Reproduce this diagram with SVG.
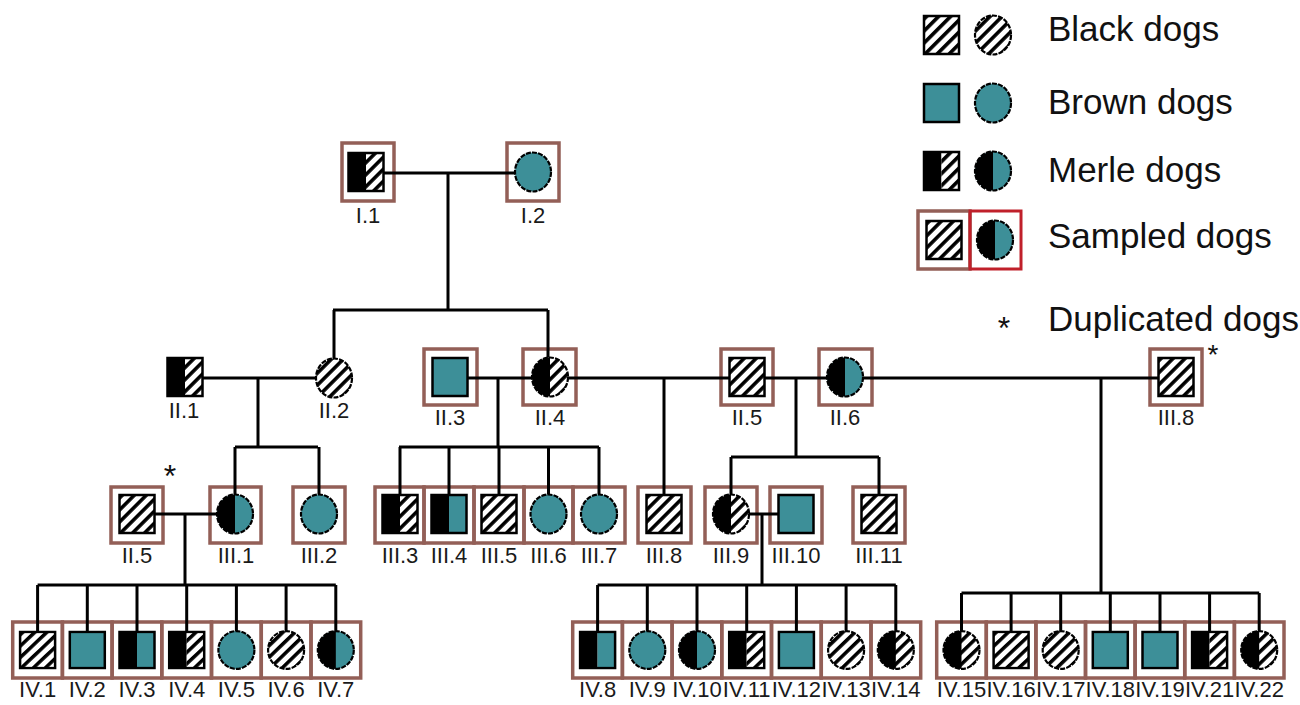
<svg xmlns="http://www.w3.org/2000/svg" xmlns:xlink="http://www.w3.org/1999/xlink" width="1300" height="705" viewBox="0 0 1300 705">
<style>
.box{fill:none;stroke:#935f57;stroke-width:3.5}
.rbox{fill:none;stroke:#c0202a;stroke-width:3}
.sym{stroke:#000;stroke-width:2.5}
.circ{fill:none;stroke:#000;stroke-width:2.2;stroke-dasharray:5 1.2}
.lbl{font-family:"Liberation Sans",Arial,sans-serif;font-size:22px;text-anchor:middle;fill:#1a1a1a}
.leg{font-family:"Liberation Sans",Arial,sans-serif;font-size:35px;fill:#111}
.ast{font-family:"Liberation Sans",Arial,sans-serif;font-size:32px;text-anchor:middle;fill:#111}
.con{fill:none;stroke:#000;stroke-width:3}
</style>
<defs>
<pattern id="hatch" patternUnits="userSpaceOnUse" width="8.5" height="8.5" patternTransform="rotate(45)">
<rect width="8.5" height="8.5" fill="#fff"/><rect width="3.6" height="8.5" fill="#000"/>
</pattern>
<g id="sqH"><rect x="-17.5" y="-19" width="35" height="38" fill="url(#hatch)" class="sym"/></g>
<g id="sqT"><rect x="-17.5" y="-19" width="35" height="38" fill="#3d8f98" class="sym"/></g>
<g id="sqMH"><rect x="-17.5" y="-19" width="17.5" height="38" fill="#000"/><rect x="0" y="-19" width="17.5" height="38" fill="url(#hatch)"/><rect x="-17.5" y="-19" width="35" height="38" fill="none" class="sym"/></g>
<g id="sqMT"><rect x="-17.5" y="-19" width="17.5" height="38" fill="#000"/><rect x="0" y="-19" width="17.5" height="38" fill="#3d8f98"/><rect x="-17.5" y="-19" width="35" height="38" fill="none" class="sym"/></g>
<g id="ciT"><ellipse rx="18" ry="19.5" fill="#3d8f98"/><ellipse rx="18" ry="19.5" class="circ"/></g>
<g id="ciH"><ellipse rx="18" ry="19.5" fill="url(#hatch)"/><ellipse rx="18" ry="19.5" class="circ"/></g>
<g id="ciMT"><ellipse rx="18" ry="19.5" fill="#3d8f98"/><path d="M0,-19.5 A18,19.5 0 0 0 0,19.5 Z" fill="#000"/><ellipse rx="18" ry="19.5" class="circ"/></g>
<g id="ciMH"><ellipse rx="18" ry="19.5" fill="url(#hatch)"/><path d="M0,-19.5 A18,19.5 0 0 0 0,19.5 Z" fill="#000"/><ellipse rx="18" ry="19.5" class="circ"/></g>
</defs>
<rect width="1300" height="705" fill="#fff"/>

<!-- Legend -->
<g id="legend">
<use href="#sqH" x="941.5" y="35"/><use href="#ciH" x="993" y="35"/>
<text class="leg" x="1048" y="41">Black dogs</text>
<use href="#sqT" x="941.5" y="103"/><use href="#ciT" x="993" y="103"/>
<text class="leg" x="1048" y="114">Brown dogs</text>
<use href="#sqMH" x="941.5" y="171"/><use href="#ciMT" x="993" y="171"/>
<text class="leg" x="1048" y="182">Merle dogs</text>
<rect class="box" x="918" y="211" width="52" height="58"/>
<rect class="rbox" x="970" y="211" width="51" height="58"/>
<use href="#sqH" x="944" y="240"/><use href="#ciMT" x="995" y="240"/>
<text class="leg" x="1048" y="248">Sampled dogs</text>
<text class="ast" x="1004" y="339">*</text>
<text class="leg" x="1048" y="331">Duplicated dogs</text>
</g>

<!-- Generation I -->
<g id="I.1"><rect class="box" x="342" y="143" width="52" height="58"/><use href="#sqMH" x="366" y="172"/><text class="lbl" x="368" y="223">I.1</text></g>
<g id="I.2"><rect class="box" x="507" y="143" width="52" height="58"/><use href="#ciT" x="533" y="172"/><text class="lbl" x="533" y="223">I.2</text></g>

<!-- Generation II -->
<g id="II.1"><use href="#sqMH" x="185" y="377"/><text class="lbl" x="184" y="418">II.1</text></g>
<g id="II.2"><use href="#ciH" x="334" y="378"/><text class="lbl" x="334" y="418">II.2</text></g>
<g id="II.3"><rect class="box" x="424" y="349" width="53" height="56"/><use href="#sqT" x="450" y="377"/><text class="lbl" x="450" y="425">II.3</text></g>
<g id="II.4"><rect class="box" x="523" y="349" width="53" height="56"/><use href="#ciMH" x="550" y="377"/><text class="lbl" x="550" y="425">II.4</text></g>
<g id="II.5"><rect class="box" x="721" y="349" width="52" height="56"/><use href="#sqH" x="747" y="377"/><text class="lbl" x="747" y="425">II.5</text></g>
<g id="II.6"><rect class="box" x="819" y="349" width="53" height="56"/><use href="#ciMT" x="845" y="377"/><text class="lbl" x="845" y="425">II.6</text></g>
<g id="III.8-top"><rect class="box" x="1150" y="349" width="52" height="56"/><use href="#sqH" x="1176" y="377"/><text class="lbl" x="1176" y="425">III.8</text><text class="ast" x="1213" y="364" style="font-size:28px">*</text></g>

<!-- Generation III -->
<g id="II.5-dup"><rect class="box" x="111" y="487" width="52" height="56"/><use href="#sqH" x="137" y="514"/><text class="lbl" x="137" y="563">II.5</text><text class="ast" x="170" y="487">*</text></g>
<g id="III.1"><rect class="box" x="210" y="487" width="51" height="56"/><use href="#ciMT" x="235" y="514"/><text class="lbl" x="236" y="563">III.1</text></g>
<g id="III.2"><rect class="box" x="293" y="487" width="52" height="56"/><use href="#ciT" x="319" y="514"/><text class="lbl" x="319" y="563">III.2</text></g>
<g id="III.3"><rect class="box" x="375" y="487" width="49" height="56"/><use href="#sqMH" x="400" y="514"/><text class="lbl" x="400" y="563">III.3</text></g>
<g id="III.4"><rect class="box" x="424" y="487" width="50" height="56"/><use href="#sqMT" x="449" y="514"/><text class="lbl" x="449" y="563">III.4</text></g>
<g id="III.5"><rect class="box" x="474" y="487" width="50" height="56"/><use href="#sqH" x="499" y="514"/><text class="lbl" x="499" y="563">III.5</text></g>
<g id="III.6"><rect class="box" x="524" y="487" width="49" height="56"/><use href="#ciT" x="548.5" y="514"/><text class="lbl" x="548.5" y="563">III.6</text></g>
<g id="III.7"><rect class="box" x="573" y="487" width="52" height="56"/><use href="#ciT" x="599" y="514"/><text class="lbl" x="599" y="563">III.7</text></g>
<g id="III.8"><rect class="box" x="638" y="487" width="53" height="56"/><use href="#sqH" x="664" y="514"/><text class="lbl" x="664" y="563">III.8</text></g>
<g id="III.9"><rect class="box" x="705" y="487" width="52" height="56"/><use href="#ciMH" x="731" y="514"/><text class="lbl" x="731" y="563">III.9</text></g>
<g id="III.10"><rect class="box" x="770" y="487" width="52" height="56"/><use href="#sqT" x="796" y="514"/><text class="lbl" x="796" y="563">III.10</text></g>
<g id="III.11"><rect class="box" x="853" y="487" width="52" height="56"/><use href="#sqH" x="879" y="514"/><text class="lbl" x="879" y="563">III.11</text></g>

<!-- Generation IV -->
<g id="IV.1"><rect class="box" x="12.7" y="622" width="49.7" height="56"/><use href="#sqH" transform="translate(37.6,650) scale(1,0.95)"/><text class="lbl" x="37.6" y="697">IV.1</text></g>
<g id="IV.2"><rect class="box" x="62.4" y="622" width="49.7" height="56"/><use href="#sqT" transform="translate(87.3,650) scale(1,0.95)"/><text class="lbl" x="87.3" y="697">IV.2</text></g>
<g id="IV.3"><rect class="box" x="112.1" y="622" width="49.7" height="56"/><use href="#sqMT" transform="translate(137,650) scale(1,0.95)"/><text class="lbl" x="137" y="697">IV.3</text></g>
<g id="IV.4"><rect class="box" x="161.8" y="622" width="49.7" height="56"/><use href="#sqMH" transform="translate(186.7,650) scale(1,0.95)"/><text class="lbl" x="186.7" y="697">IV.4</text></g>
<g id="IV.5"><rect class="box" x="211.5" y="622" width="49.7" height="56"/><use href="#ciT" transform="translate(236.4,650) scale(1,0.97)"/><text class="lbl" x="236.4" y="697">IV.5</text></g>
<g id="IV.6"><rect class="box" x="261.3" y="622" width="49.7" height="56"/><use href="#ciH" transform="translate(286.1,650) scale(1,0.97)"/><text class="lbl" x="286.1" y="697">IV.6</text></g>
<g id="IV.7"><rect class="box" x="311" y="622" width="49.7" height="56"/><use href="#ciMT" transform="translate(335.8,650) scale(1,0.97)"/><text class="lbl" x="335.8" y="697">IV.7</text></g>

<g id="IV.8"><rect class="box" x="572.7" y="622" width="49.7" height="56"/><use href="#sqMT" transform="translate(597.6,650) scale(1,0.95)"/><text class="lbl" x="597.6" y="697">IV.8</text></g>
<g id="IV.9"><rect class="box" x="622.4" y="622" width="49.7" height="56"/><use href="#ciT" transform="translate(647.3,650) scale(1,0.97)"/><text class="lbl" x="647.3" y="697">IV.9</text></g>
<g id="IV.10"><rect class="box" x="672.1" y="622" width="49.7" height="56"/><use href="#ciMT" transform="translate(697,650) scale(1,0.97)"/><text class="lbl" x="697" y="697">IV.10</text></g>
<g id="IV.11"><rect class="box" x="721.8" y="622" width="49.7" height="56"/><use href="#sqMH" transform="translate(746.7,650) scale(1,0.95)"/><text class="lbl" x="746.7" y="697">IV.11</text></g>
<g id="IV.12"><rect class="box" x="771.5" y="622" width="49.7" height="56"/><use href="#sqT" transform="translate(796.4,650) scale(1,0.95)"/><text class="lbl" x="796.4" y="697">IV.12</text></g>
<g id="IV.13"><rect class="box" x="821.3" y="622" width="49.7" height="56"/><use href="#ciH" transform="translate(846.1,650) scale(1,0.97)"/><text class="lbl" x="846.1" y="697">IV.13</text></g>
<g id="IV.14"><rect class="box" x="871" y="622" width="49.7" height="56"/><use href="#ciMH" transform="translate(895.8,650) scale(1,0.97)"/><text class="lbl" x="895.8" y="697">IV.14</text></g>

<g id="IV.15"><rect class="box" x="936.7" y="622" width="49.6" height="56"/><use href="#ciMH" transform="translate(961.5,650) scale(1,0.97)"/><text class="lbl" x="961.5" y="697">IV.15</text></g>
<g id="IV.16"><rect class="box" x="986.3" y="622" width="49.6" height="56"/><use href="#sqH" transform="translate(1011.1,650) scale(1,0.95)"/><text class="lbl" x="1011.1" y="697">IV.16</text></g>
<g id="IV.17"><rect class="box" x="1035.9" y="622" width="49.6" height="56"/><use href="#ciH" transform="translate(1060.7,650) scale(1,0.97)"/><text class="lbl" x="1060.7" y="697">IV.17</text></g>
<g id="IV.18"><rect class="box" x="1085.5" y="622" width="49.6" height="56"/><use href="#sqT" transform="translate(1110.3,650) scale(1,0.95)"/><text class="lbl" x="1110.3" y="697">IV.18</text></g>
<g id="IV.19"><rect class="box" x="1135.1" y="622" width="49.6" height="56"/><use href="#sqT" transform="translate(1160,650) scale(1,0.95)"/><text class="lbl" x="1160" y="697">IV.19</text></g>
<g id="IV.21"><rect class="box" x="1184.8" y="622" width="49.6" height="56"/><use href="#sqMH" transform="translate(1209.6,650) scale(1,0.95)"/><text class="lbl" x="1209.6" y="697">IV.21</text></g>
<g id="IV.22"><rect class="box" x="1234.4" y="622" width="49.6" height="56"/><use href="#ciMH" transform="translate(1259.2,650) scale(1,0.97)"/><text class="lbl" x="1259.2" y="697">IV.22</text></g>

<!-- Connectors -->
<g id="connectors" class="con">
<path d="M384,173 H515 M448,173 V310 M333,310 H548 M334,310 V358.5 M548,310 V357.5"/>
<path d="M203,378 H316 M258,378 V447 M235,447 H318 M235,447 V494.5 M319,447 V494.5"/>
<path d="M467,378 H532 M498,378 V447 M399,447 H599 M400,447 V495 M449,447 V495 M499,447 V495 M548.5,447 V494.5 M599,447 V494.5"/>
<path d="M568,378 H729.5 M664,378 V495"/>
<path d="M764.5,378 H827 M796,378 V457 M731,457 H879 M731,457 V494.5 M879,457 V495"/>
<path d="M863,378 H1158.5 M1101,378 V593 M961.5,593 H1259.2 M961.5,593 V631 M1011.1,593 V632 M1060.7,593 V631 M1110.3,593 V632 M1160,593 V632 M1209.6,593 V632 M1259.2,593 V631"/>
<path d="M154.5,514 H217 M185,514 V585 M37.6,585 H335.8 M37.6,585 V632 M87.3,585 V632 M137,585 V632 M186.7,585 V632 M236.4,585 V631 M286.1,585 V631 M335.8,585 V631"/>
<path d="M749,514 H778.5 M762,514 V585 M597.6,585 H895.8 M597.6,585 V632 M647.3,585 V631 M697,585 V631 M746.7,585 V632 M796.4,585 V632 M846.1,585 V631 M895.8,585 V631"/>
</g>
</svg>
